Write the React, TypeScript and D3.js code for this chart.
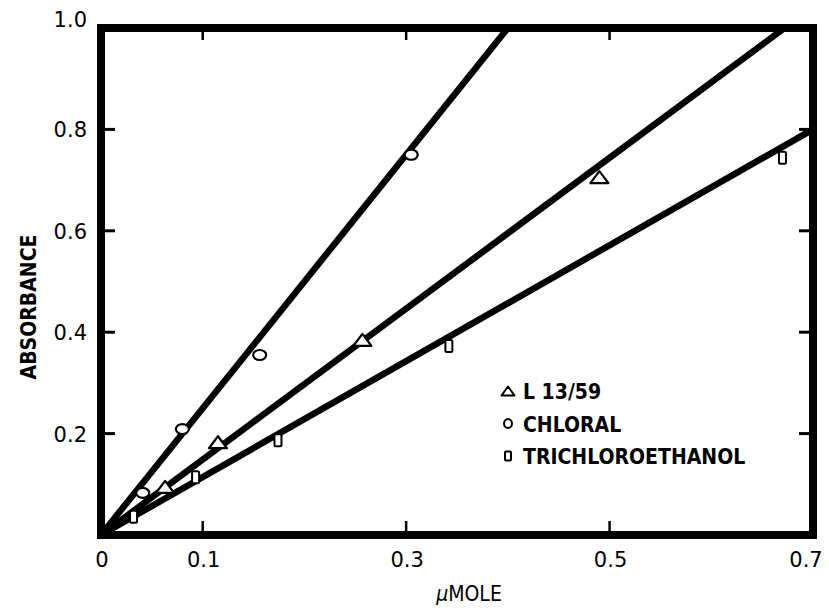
import React from 'react';
import * as d3 from 'd3';

// values
const xTickValues = [0, 0.1, 0.3, 0.5, 0.7];
const xTickLabels = ['0', '0.1', '0.3', '0.5', '0.7'];
const yTickValues = [0.2, 0.4, 0.6, 0.8, 1.0];
const yTickLabels = ['0.2', '0.4', '0.6', '0.8', '1.0'];
const innerTicksX = [0.1, 0.3, 0.5];
const innerTicksY = [0.2, 0.4, 0.6, 0.8];

const l13X = [0.063, 0.115, 0.257, 0.49];
const l13Y = [0.095, 0.183, 0.385, 0.706];
const chloralX = [0.041, 0.08, 0.156, 0.305];
const chloralY = [0.083, 0.209, 0.355, 0.75];
const trichloroX = [0.032, 0.093, 0.174, 0.342, 0.67];
const trichloroY = [0.036, 0.114, 0.187, 0.373, 0.744];

// fitted lines through origin: [x, y] end points
const chloralFit = [[0, 0], [0.4, 1.0]];
const l13Fit = [[0, 0], [0.672, 1.0]];
const trichloroFit = [[0, 0], [0.7, 0.8]];

const legendLabels = ['L 13/59', 'CHLORAL', 'TRICHLOROETHANOL'];

const W = 829;
const H = 612;
const font = '"DejaVu Sans", sans-serif';
const legendFont = '"DejaVu Sans Condensed", "DejaVu Sans", sans-serif';

function Triangle({ cx, cy, w, h, sw }) {
  const p = [[cx - w / 2, cy + h / 2], [cx + w / 2, cy + h / 2], [cx, cy - h / 2]];
  return <path d={d3.line()(p) + 'Z'} fill="#fff" stroke="#000" strokeWidth={sw} strokeLinejoin="round" />;
}

export default function App() {
  const x = d3.scaleLinear().domain([0, 0.7]).range([101, 813]);
  const y = d3.scaleLinear().domain([0, 1]).range([535, 28]);
  const line = d3.line().x(d => x(d[0])).y(d => y(d[1]));

  const legendX = 508;
  const legendY = d3.scalePoint().domain(legendLabels).range([391, 456]);

  return (
    <svg width={W} height={H} style={{ position: 'absolute', left: 0, top: 0, background: '#fff' }}>
      <rect width={W} height={H} fill="#fff" />

      {/* fit lines */}
      {[chloralFit, l13Fit, trichloroFit].map((f, i) => (
        <path key={i} d={line(f)} stroke="#000" strokeWidth={6.5} fill="none" strokeLinecap="butt" />
      ))}

      {/* frame */}
      <rect x={x(0)} y={y(1)} width={x(0.7) - x(0)} height={y(0) - y(1)} fill="none" stroke="#000" strokeWidth={8} />

      {/* inward ticks */}
      {innerTicksY.map(v => (
        <g key={'ty' + v}>
          <line x1={x(0)} x2={x(0) + 14} y1={y(v)} y2={y(v)} stroke="#000" strokeWidth={3} />
          <line x1={x(0.7)} x2={x(0.7) - 14} y1={y(v)} y2={y(v)} stroke="#000" strokeWidth={3} />
        </g>
      ))}
      {innerTicksX.map(v => (
        <g key={'tx' + v}>
          <line x1={x(v)} x2={x(v)} y1={y(0)} y2={y(0) - 14} stroke="#000" strokeWidth={2.5} />
          <line x1={x(v)} x2={x(v)} y1={y(1)} y2={y(1) + 12} stroke="#000" strokeWidth={2.5} />
        </g>
      ))}

      {/* tick labels */}
      {xTickValues.map((v, i) => (
        <text key={'xl' + v} x={x(v) + (i === xTickValues.length - 1 ? -7 : 1)} y={567} textAnchor="middle"
          fontFamily={font} fontSize={21}>{xTickLabels[i]}</text>
      ))}
      {yTickValues.map((v, i) => (
        <text key={'yl' + v} x={87} y={y(v) + (v === 1 ? -1 : 8)} textAnchor="end"
          fontFamily={font} fontSize={21}>{yTickLabels[i]}</text>
      ))}

      {/* axis titles */}
      <text transform="translate(36,307) rotate(-90)" textAnchor="middle" fontFamily={legendFont}
        fontWeight="bold" fontSize={21}>ABSORBANCE</text>
      <text x={469} y={601} textAnchor="middle" fontFamily={legendFont} fontSize={21}>
        <tspan fontStyle="italic">µ</tspan>MOLE
      </text>

      {/* data points */}
      {chloralX.map((v, i) => (
        <ellipse key={'c' + i} cx={x(v)} cy={y(chloralY[i])} rx={6.5} ry={5} fill="#fff" stroke="#000" strokeWidth={2.2} />
      ))}
      {l13X.map((v, i) => (
        <Triangle key={'t' + i} cx={x(v)} cy={y(l13Y[i])} w={18} h={12} sw={2.2} />
      ))}
      {trichloroX.map((v, i) => (
        <rect key={'s' + i} x={x(v) - 3.5} y={y(trichloroY[i]) - 6} width={7} height={12} rx={1.5}
          fill="#fff" stroke="#000" strokeWidth={2} />
      ))}

      {/* legend */}
      <Triangle cx={legendX} cy={legendY(legendLabels[0])} w={13} h={9} sw={2} />
      <ellipse cx={legendX} cy={legendY(legendLabels[1])} rx={4} ry={4.5} fill="#fff" stroke="#000" strokeWidth={2} />
      <rect x={legendX - 3} y={legendY(legendLabels[2]) - 4.5} width={6} height={9} rx={1} fill="#fff" stroke="#000" strokeWidth={2} />
      {legendLabels.map(l => (
        <text key={l} x={legendX + 15} y={legendY(l) + 8} fontFamily={legendFont} fontWeight="bold" fontSize={21}>{l}</text>
      ))}
    </svg>
  );
}
